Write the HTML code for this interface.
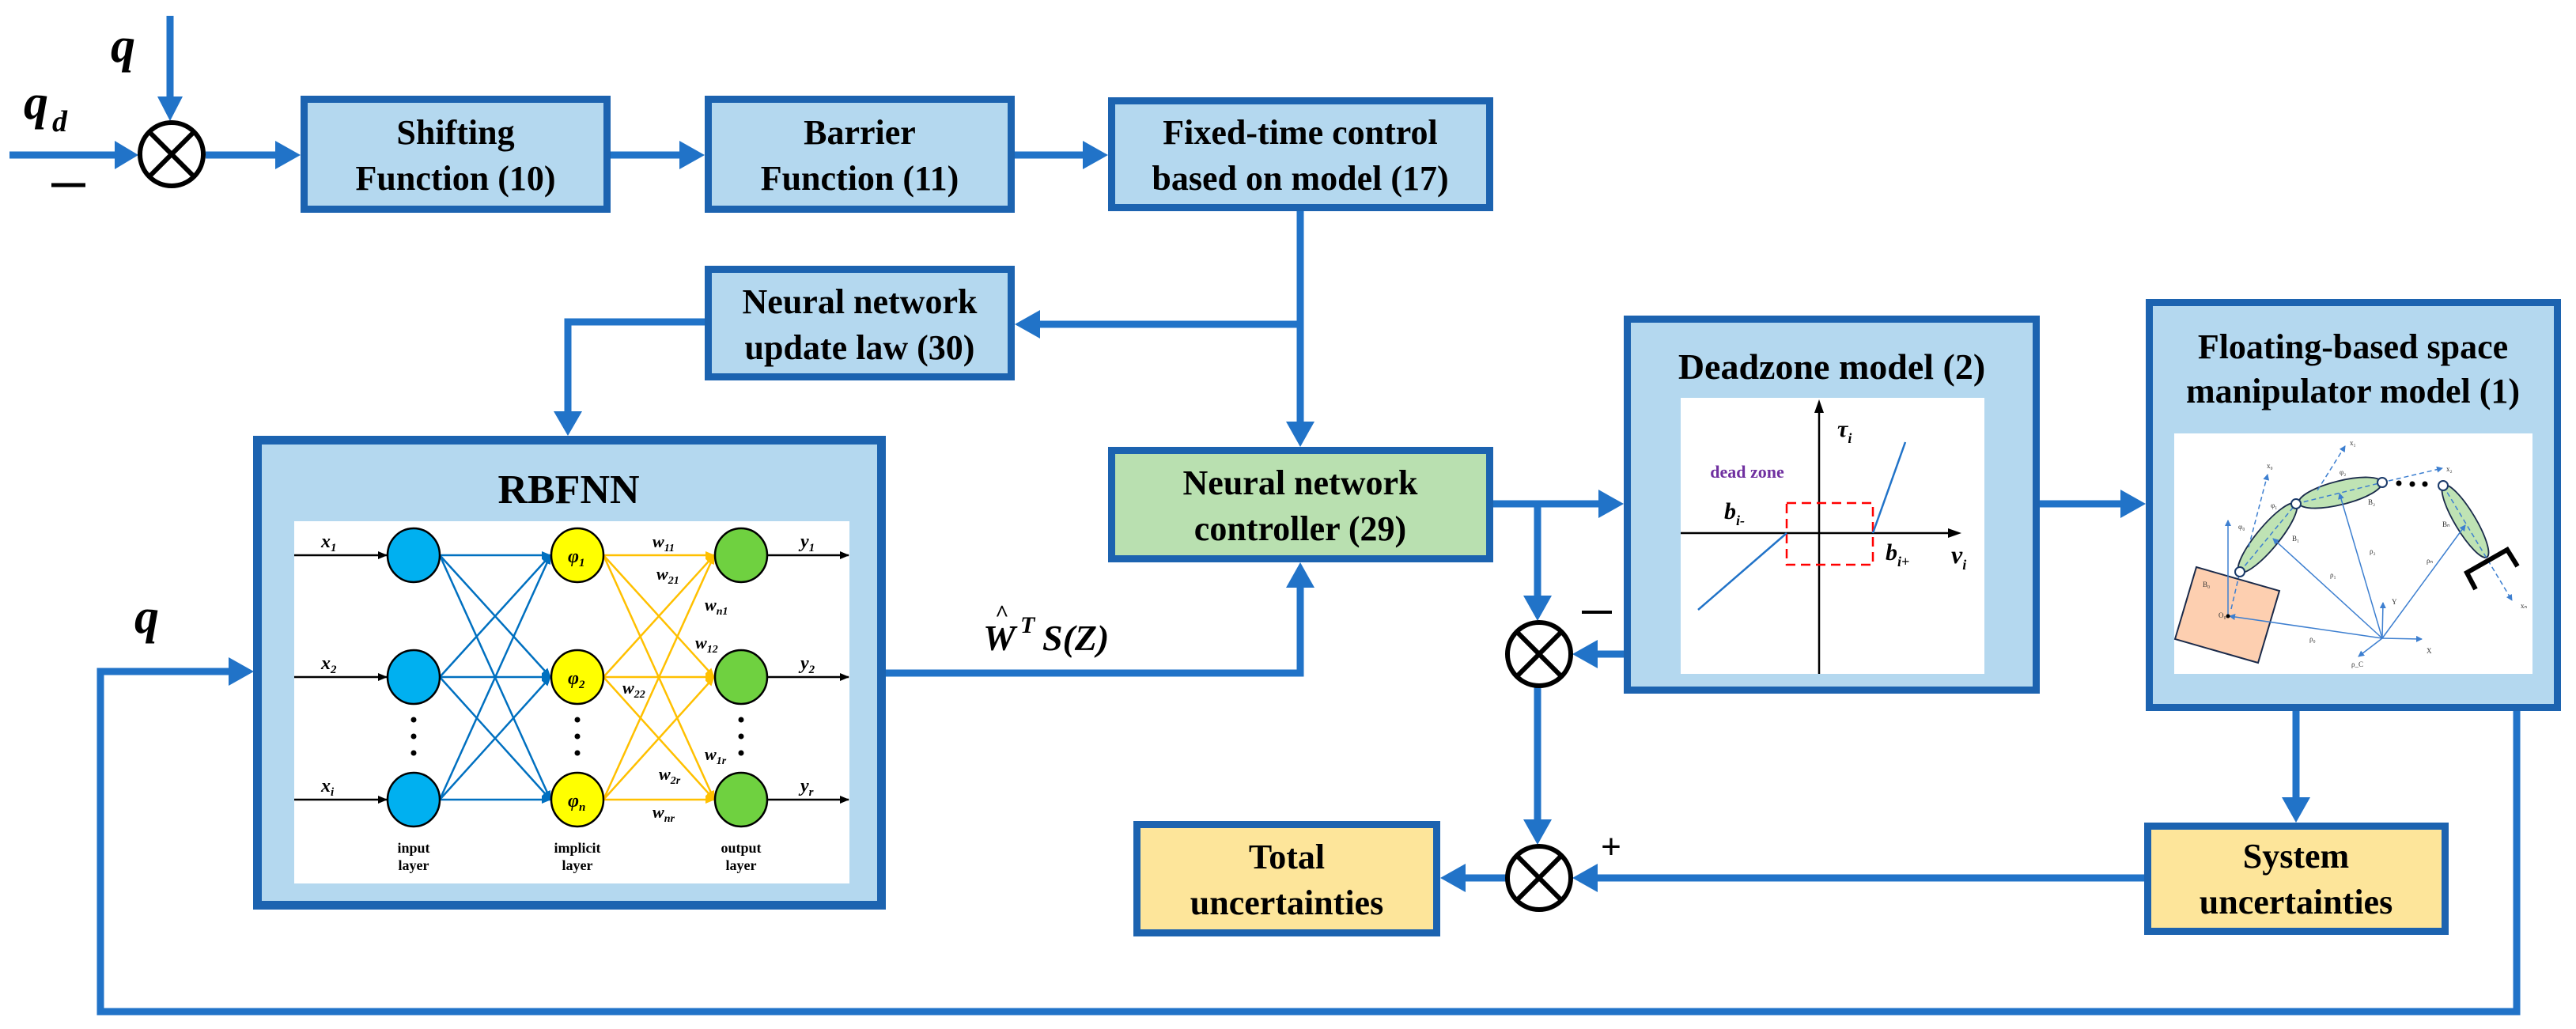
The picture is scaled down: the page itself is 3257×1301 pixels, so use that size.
<!DOCTYPE html>
<html><head><meta charset="utf-8"><style>
html,body{margin:0;padding:0;background:#fff;}
svg{display:block;}
.bt{font-family:"Liberation Serif",serif;font-weight:bold;fill:#000;}
.it{font-family:"Liberation Serif",serif;font-style:italic;font-weight:bold;fill:#000;}
</style></head><body>
<svg width="3257" height="1301" viewBox="0 0 3257 1301" xmlns="http://www.w3.org/2000/svg">
<defs>
<marker id="ab" markerWidth="10" markerHeight="10" refX="9" refY="5" orient="auto" markerUnits="userSpaceOnUse" viewBox="0 0 10 10"><path d="M0,0 L10,5 L0,10z" fill="#1a6fc4"/></marker>
<marker id="ak" markerWidth="12" markerHeight="10" refX="11" refY="5" orient="auto" markerUnits="userSpaceOnUse" viewBox="0 0 12 10"><path d="M0,0 L12,5 L0,10z" fill="#000"/></marker>
<marker id="ay" markerWidth="12" markerHeight="10" refX="11" refY="5" orient="auto" markerUnits="userSpaceOnUse" viewBox="0 0 12 10"><path d="M0,0 L12,5 L0,10z" fill="#ffc000"/></marker>
<marker id="ab2" markerWidth="12" markerHeight="10" refX="11" refY="5" orient="auto" markerUnits="userSpaceOnUse" viewBox="0 0 12 10"><path d="M0,0 L12,5 L0,10z" fill="#0070c0"/></marker>
<marker id="as" markerWidth="8" markerHeight="8" refX="7" refY="4" orient="auto" markerUnits="userSpaceOnUse" viewBox="0 0 8 8"><path d="M0,0 L8,4 L0,8z" fill="#3d7fd0"/></marker>
</defs>

<!-- connectors -->
<g stroke="#2173c8" stroke-width="9" fill="none">
  <line x1="215" y1="20" x2="215" y2="125"/>
  <line x1="12" y1="196" x2="148" y2="196"/>
  <line x1="260" y1="196" x2="350" y2="196"/>
  <line x1="772" y1="196" x2="862" y2="196"/>
  <line x1="1283" y1="196" x2="1372" y2="196"/>
  <line x1="1644" y1="267" x2="1644" y2="535"/>
  <line x1="1644" y1="410" x2="1313" y2="410"/>
  <polyline points="891,407 718,407 718,522"/>
  <polyline points="1120,851 1644,851 1644,741"/>
  <line x1="1888" y1="637" x2="2023" y2="637"/>
  <line x1="1944" y1="637" x2="1944" y2="755"/>
  <line x1="2053" y1="827" x2="2018" y2="827"/>
  <line x1="1944" y1="869" x2="1944" y2="1038"/>
  <line x1="2711" y1="1110" x2="2018" y2="1110"/>
  <line x1="1904" y1="1110" x2="1851" y2="1110"/>
  <line x1="2579" y1="637" x2="2683" y2="637"/>
  <line x1="2903" y1="899" x2="2903" y2="1010"/>
  <polyline points="3182,899 3182,1279 127,1279 127,849 291,849"/>
</g>
<g fill="#2173c8">
  <path d="M199,122 L231,122 L215,153z"/>
  <path d="M145,178 L145,214 L175,196z"/>
  <path d="M348,178 L348,214 L380,196z"/>
  <path d="M859,178 L859,214 L891,196z"/>
  <path d="M1369,178 L1369,214 L1401,196z"/>
  <path d="M1626,533 L1662,533 L1644,565z"/>
  <path d="M1315,392 L1315,428 L1283,410z"/>
  <path d="M700,520 L736,520 L718,551z"/>
  <path d="M1626,743 L1662,743 L1644,711z"/>
  <path d="M2021,619 L2021,655 L2053,637z"/>
  <path d="M1926,753 L1962,753 L1944,785z"/>
  <path d="M2020,809 L2020,845 L1988,827z"/>
  <path d="M1926,1036 L1962,1036 L1944,1068z"/>
  <path d="M2020,1092 L2020,1128 L1988,1110z"/>
  <path d="M1853,1092 L1853,1128 L1821,1110z"/>
  <path d="M2681,619 L2681,655 L2713,637z"/>
  <path d="M2885,1008 L2921,1008 L2903,1040z"/>
  <path d="M289,831 L289,867 L321,849z"/>
</g>

<!-- summing junctions -->
<g stroke="#000" stroke-width="6" fill="#fff">
  <circle cx="217" cy="195" r="40"/>
  <circle cx="1946" cy="827" r="40"/>
  <circle cx="1946" cy="1110" r="40"/>
</g>
<g stroke="#000" stroke-width="6">
  <line x1="189" y1="167" x2="245" y2="223"/><line x1="245" y1="167" x2="189" y2="223"/>
  <line x1="1918" y1="799" x2="1974" y2="855"/><line x1="1974" y1="799" x2="1918" y2="855"/>
  <line x1="1918" y1="1082" x2="1974" y2="1138"/><line x1="1974" y1="1082" x2="1918" y2="1138"/>
</g>
<line x1="65" y1="234" x2="108" y2="234" stroke="#000" stroke-width="5"/>
<line x1="2000" y1="774" x2="2038" y2="774" stroke="#000" stroke-width="4"/>
<text x="2037" y="1085" font-family="Liberation Sans,sans-serif" font-size="44" text-anchor="middle">+</text>

<text class="it" x="140" y="78" font-size="62">q</text>
<text class="it" x="30" y="150" font-size="62">q</text>
<text class="it" x="66" y="166" font-size="38">d</text>
<text class="it" x="170" y="800" font-size="62">q</text>

<!-- top boxes -->
<g stroke="#1c63b0" stroke-width="9" fill="#b4d8ef">
  <rect x="384.5" y="125.5" width="383" height="139"/>
  <rect x="895.5" y="125.5" width="383" height="139"/>
  <rect x="1405.5" y="127.5" width="478" height="135"/>
  <rect x="895.5" y="340.5" width="383" height="136"/>
</g>
<g class="bt" font-size="44" text-anchor="middle">
  <text x="576" y="182">Shifting</text><text x="576" y="240">Function (10)</text>
  <text x="1087" y="182">Barrier</text><text x="1087" y="240">Function (11)</text>
  <text x="1644" y="182">Fixed-time control</text><text x="1644" y="240">based on model (17)</text>
  <text x="1087" y="396">Neural network</text><text x="1087" y="454">update law (30)</text>
</g>

<!-- NN controller -->
<rect x="1405.5" y="569.5" width="478" height="137" fill="#b9e0b0" stroke="#1c63b0" stroke-width="9"/>
<g class="bt" font-size="44" text-anchor="middle">
  <text x="1644" y="625">Neural network</text><text x="1644" y="683">controller (29)</text>
</g>
<text class="it" x="1243" y="822" font-size="46">W</text>
<text class="it" x="1258" y="785" font-size="30">^</text>
<text class="it" x="1290" y="800" font-size="30">T</text>
<text class="it" x="1318" y="822" font-size="46">S(Z)</text>

<!-- RBFNN -->
<rect x="325.5" y="556.5" width="789" height="588" fill="#b4d8ef" stroke="#1c63b0" stroke-width="11"/>
<text class="bt" x="719" y="636" font-size="52" text-anchor="middle">RBFNN</text>
<rect x="372" y="659" width="702" height="458" fill="#fff"/>
<g stroke-width="2.5" fill="none">
  <g stroke="#000">
    <line x1="372" y1="702" x2="489" y2="702" marker-end="url(#ak)"/>
    <line x1="372" y1="856" x2="489" y2="856" marker-end="url(#ak)"/>
    <line x1="372" y1="1011" x2="489" y2="1011" marker-end="url(#ak)"/>
    <line x1="970" y1="702" x2="1073" y2="702" marker-end="url(#ak)"/>
    <line x1="970" y1="856" x2="1073" y2="856" marker-end="url(#ak)"/>
    <line x1="970" y1="1011" x2="1073" y2="1011" marker-end="url(#ak)"/>
  </g>
  <g stroke="#0070c0">
    <line x1="556" y1="702" x2="696" y2="702" marker-end="url(#ab2)"/>
    <line x1="556" y1="702" x2="696" y2="856" marker-end="url(#ab2)"/>
    <line x1="556" y1="702" x2="696" y2="1011" marker-end="url(#ab2)"/>
    <line x1="556" y1="856" x2="696" y2="702" marker-end="url(#ab2)"/>
    <line x1="556" y1="856" x2="696" y2="856" marker-end="url(#ab2)"/>
    <line x1="556" y1="856" x2="696" y2="1011" marker-end="url(#ab2)"/>
    <line x1="556" y1="1011" x2="696" y2="702" marker-end="url(#ab2)"/>
    <line x1="556" y1="1011" x2="696" y2="856" marker-end="url(#ab2)"/>
    <line x1="556" y1="1011" x2="696" y2="1011" marker-end="url(#ab2)"/>
  </g>
  <g stroke="#ffc000">
    <line x1="763" y1="702" x2="903" y2="702" marker-end="url(#ay)"/>
    <line x1="763" y1="702" x2="903" y2="856" marker-end="url(#ay)"/>
    <line x1="763" y1="702" x2="903" y2="1011" marker-end="url(#ay)"/>
    <line x1="763" y1="856" x2="903" y2="702" marker-end="url(#ay)"/>
    <line x1="763" y1="856" x2="903" y2="856" marker-end="url(#ay)"/>
    <line x1="763" y1="856" x2="903" y2="1011" marker-end="url(#ay)"/>
    <line x1="763" y1="1011" x2="903" y2="702" marker-end="url(#ay)"/>
    <line x1="763" y1="1011" x2="903" y2="856" marker-end="url(#ay)"/>
    <line x1="763" y1="1011" x2="903" y2="1011" marker-end="url(#ay)"/>
  </g>
</g>
<g stroke="#000" stroke-width="2.5">
  <ellipse cx="523" cy="702" rx="33" ry="34" fill="#00b0f0"/>
  <ellipse cx="523" cy="856" rx="33" ry="34" fill="#00b0f0"/>
  <ellipse cx="523" cy="1011" rx="33" ry="34" fill="#00b0f0"/>
  <ellipse cx="730" cy="702" rx="33" ry="34" fill="#ffff00"/>
  <ellipse cx="730" cy="856" rx="33" ry="34" fill="#ffff00"/>
  <ellipse cx="730" cy="1011" rx="33" ry="34" fill="#ffff00"/>
  <ellipse cx="937" cy="702" rx="33" ry="34" fill="#6fd140"/>
  <ellipse cx="937" cy="856" rx="33" ry="34" fill="#6fd140"/>
  <ellipse cx="937" cy="1011" rx="33" ry="34" fill="#6fd140"/>
</g>
<g fill="#000">
  <circle cx="523" cy="910" r="3.5"/><circle cx="523" cy="931" r="3.5"/><circle cx="523" cy="952" r="3.5"/>
  <circle cx="730" cy="910" r="3.5"/><circle cx="730" cy="931" r="3.5"/><circle cx="730" cy="952" r="3.5"/>
  <circle cx="937" cy="910" r="3.5"/><circle cx="937" cy="931" r="3.5"/><circle cx="937" cy="952" r="3.5"/>
</g>
<g class="it" font-size="24">
  <text x="406" y="692">x<tspan font-size="15" dy="5">1</tspan></text>
  <text x="406" y="846">x<tspan font-size="15" dy="5">2</tspan></text>
  <text x="406" y="1001">x<tspan font-size="15" dy="5">i</tspan></text>
  <text x="1012" y="692">y<tspan font-size="15" dy="5">1</tspan></text>
  <text x="1012" y="846">y<tspan font-size="15" dy="5">2</tspan></text>
  <text x="1012" y="1001">y<tspan font-size="15" dy="5">r</tspan></text>
  <text x="718" y="711">φ<tspan font-size="15" dy="5">1</tspan></text>
  <text x="718" y="865">φ<tspan font-size="15" dy="5">2</tspan></text>
  <text x="718" y="1020">φ<tspan font-size="15" dy="5">n</tspan></text>
  <g font-size="22">
  <text x="825" y="692">w<tspan font-size="14" dy="5">11</tspan></text>
  <text x="830" y="733">w<tspan font-size="14" dy="5">21</tspan></text>
  <text x="891" y="772">w<tspan font-size="14" dy="5">n1</tspan></text>
  <text x="879" y="820">w<tspan font-size="14" dy="5">12</tspan></text>
  <text x="787" y="877">w<tspan font-size="14" dy="5">22</tspan></text>
  <text x="891" y="961">w<tspan font-size="14" dy="5">1r</tspan></text>
  <text x="833" y="986">w<tspan font-size="14" dy="5">2r</tspan></text>
  <text x="825" y="1034">w<tspan font-size="14" dy="5">nr</tspan></text>
  </g>
</g>
<g class="bt" font-size="18" text-anchor="middle">
  <text x="523" y="1078">input</text><text x="523" y="1100">layer</text>
  <text x="730" y="1078">implicit</text><text x="730" y="1100">layer</text>
  <text x="937" y="1078">output</text><text x="937" y="1100">layer</text>
</g>

<!-- uncertainty boxes -->
<g stroke="#1c63b0" stroke-width="9" fill="#fde59a">
  <rect x="1437.5" y="1042.5" width="379" height="137"/>
  <rect x="2715.5" y="1044.5" width="376" height="133"/>
</g>
<g class="bt" font-size="44" text-anchor="middle">
  <text x="1627" y="1098">Total</text><text x="1627" y="1156">uncertainties</text>
  <text x="2903" y="1097">System</text><text x="2903" y="1155">uncertainties</text>
</g>

<!-- Deadzone -->
<rect x="2057.5" y="403.5" width="517" height="469" fill="#b4d8ef" stroke="#1c63b0" stroke-width="9"/>
<text class="bt" x="2316" y="479" font-size="46" text-anchor="middle">Deadzone model (2)</text>
<rect x="2125" y="503" width="384" height="349" fill="#fff"/>
<line x1="2300" y1="852" x2="2300" y2="520" stroke="#000" stroke-width="2.5"/>
<path d="M2294,522 L2306,522 L2300,505z" fill="#000"/>
<line x1="2125" y1="674" x2="2465" y2="674" stroke="#000" stroke-width="2.5"/>
<path d="M2463,668 L2463,680 L2480,674z" fill="#000"/>
<rect x="2259" y="636" width="109" height="78" fill="none" stroke="#ff0000" stroke-width="2.5" stroke-dasharray="12,7"/>
<g stroke="#2173c8" stroke-width="2.5">
  <line x1="2147" y1="771" x2="2259" y2="674"/>
  <line x1="2368" y1="674" x2="2409" y2="559"/>
</g>
<text x="2209" y="604" font-family="Liberation Serif,serif" font-weight="bold" font-size="22" fill="#7030a0" text-anchor="middle">dead zone</text>
<text class="it" x="2323" y="552" font-size="30">τ<tspan font-size="18" dy="8">i</tspan></text>
<text class="it" x="2180" y="656" font-size="30">b<tspan font-size="18" dy="8">i-</tspan></text>
<text class="it" x="2384" y="708" font-size="30">b<tspan font-size="18" dy="8">i+</tspan></text>
<text class="it" x="2467" y="712" font-size="32">v<tspan font-size="18" dy="8">i</tspan></text>

<!-- Floating manipulator -->
<rect x="2717.5" y="382.5" width="516" height="512" fill="#b4d8ef" stroke="#1c63b0" stroke-width="9"/>
<g class="bt" font-size="44" text-anchor="middle">
  <text x="2975" y="453">Floating-based space</text><text x="2975" y="509">manipulator model (1)</text>
</g>
<rect x="2749" y="548" width="453" height="304" fill="#fff"/>
<polygon points="2750,808 2777,717 2882,747 2855,838" fill="#fdcfb0" stroke="#1a2a4a" stroke-width="2"/>
<g stroke="#1a2a4a" stroke-width="1.8" fill="#bfe3b4">
  <ellipse cx="2867" cy="680" rx="56" ry="14" transform="rotate(-50.4 2867 680)"/>
  <ellipse cx="2959" cy="623" rx="54" ry="15" transform="rotate(-14 2959 623)"/>
  <ellipse cx="3117" cy="659" rx="53" ry="13" transform="rotate(59 3117 659)"/>
</g>
<g stroke="#3d7fd0" stroke-width="1.5" fill="none">
  <line x1="3012" y1="807" x2="2819" y2="779" marker-end="url(#as)"/>
  <line x1="3012" y1="807" x2="2874" y2="681" marker-end="url(#as)"/>
  <line x1="3012" y1="807" x2="2958" y2="624" marker-end="url(#as)"/>
  <line x1="3012" y1="807" x2="3117" y2="664" marker-end="url(#as)"/>
  <line x1="3012" y1="807" x2="3062" y2="808" marker-end="url(#as)"/>
  <line x1="3012" y1="807" x2="3013" y2="762" marker-end="url(#as)"/>
  <line x1="3012" y1="807" x2="2982" y2="830" marker-end="url(#as)"/>
  <line x1="2817" y1="779" x2="2817" y2="658" marker-end="url(#as)"/>
  <g stroke-dasharray="6,4">
    <line x1="2821" y1="770" x2="2832" y2="723"/>
    <line x1="2832" y1="723" x2="2903" y2="637"/>
    <line x1="2843" y1="692" x2="2867" y2="600" marker-end="url(#as)"/>
    <line x1="2903" y1="637" x2="3012" y2="610"/>
    <line x1="2930" y1="620" x2="2965" y2="564" marker-end="url(#as)"/>
    <line x1="3020" y1="608" x2="3088" y2="592" marker-end="url(#as)"/>
    <line x1="3089" y1="614" x2="3176" y2="759" marker-end="url(#as)"/>
  </g>
</g>
<g stroke="#1a3a6a" stroke-width="2" fill="#fff">
  <circle cx="2832" cy="723" r="6"/><circle cx="2903" cy="637" r="6"/>
  <circle cx="3012" cy="610" r="6"/><circle cx="3089" cy="614" r="6"/>
</g>
<g fill="#000"><circle cx="3033" cy="611" r="3.5"/><circle cx="3050" cy="612" r="3.5"/><circle cx="3066" cy="612" r="3.5"/><circle cx="2817" cy="779" r="2.5"/></g>
<polyline points="3130,745 3119,724 3170,695 3183,716" fill="none" stroke="#000" stroke-width="6"/>
<g font-family="Liberation Serif,serif" font-size="9" fill="#333">
  <text x="2785" y="742">B₀</text><text x="2805" y="781">O₀</text><text x="2898" y="684">B₁</text>
  <text x="2994" y="638">B₂</text><text x="3088" y="666">Bₙ</text><text x="2946" y="730">ρ₁</text>
  <text x="2996" y="700">ρ₂</text><text x="3068" y="712">ρₙ</text><text x="2920" y="811">ρ₀</text>
  <text x="2973" y="843">ρ_C</text><text x="3024" y="764">Y</text><text x="3068" y="826">X</text>
  <text x="2866" y="592">x₀</text><text x="2971" y="563">x₁</text><text x="3093" y="596">x₂</text><text x="3187" y="769">xₙ</text>
  <text x="2830" y="669">φ₀</text><text x="2871" y="642">φ₁</text><text x="2958" y="600">φ₂</text>
</g>
</svg>
</body></html>
